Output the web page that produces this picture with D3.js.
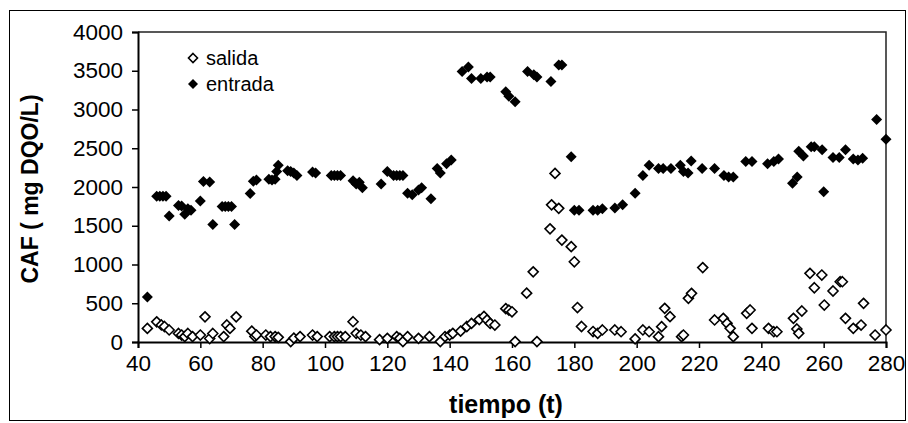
<!DOCTYPE html>
<html><head><meta charset="utf-8">
<script src="https://cdn.jsdelivr.net/npm/d3@7"></script>
<style>body{margin:0;background:#fff}svg{display:block}text{font-family:"Liberation Sans",Arial,sans-serif}</style>
</head><body><svg id="c" width="908" height="423"></svg>
<script>
const xTicks=[40,60,80,100,120,140,160,180,200,220,240,260,280];
const yTicks=[0,500,1000,1500,2000,2500,3000,3500,4000];
const seriesNames=["salida","entrada"];
const entradaT=[43,46,47,48,49,50,53,54,55,56,57,60,61,63,64,67,68,69,70,71,76,77,78,82,83,84,84.5,85,88,89,90,91,96,97,102,103,104,105,109,110,111,112,118,120,122,123,124,125,126.5,128,130,131,134,136,137,139,140.5,144,146,147,150,152,153,158,159,161,165,167,168,172.5,175,176,179,180,181.5,186,187.5,189,193,195.5,199.5,202,204,207,208.5,211,214,215,216.5,217.5,221,225,228,229.5,231,235,237,242,244,245.5,250,251.5,252,253.5,256,257,259.5,260,263,265,267,269.5,271,272.5,277,280];
const entradaV=[580,1880,1880,1880,1880,1625,1760,1755,1650,1720,1700,1820,2070,2065,1515,1750,1750,1750,1750,1515,1915,2075,2090,2100,2090,2100,2200,2280,2210,2200,2180,2150,2195,2180,2150,2150,2150,2150,2080,2040,2060,1990,2040,2200,2150,2150,2150,2150,1920,1900,1960,1990,1850,2240,2180,2300,2350,3490,3550,3400,3400,3420,3420,3230,3170,3100,3490,3450,3420,3360,3575,3575,2390,1700,1700,1700,1700,1720,1730,1770,1920,2150,2280,2240,2240,2240,2280,2200,2180,2335,2240,2240,2150,2130,2130,2330,2330,2300,2330,2360,2050,2130,2460,2400,2520,2520,2480,1940,2380,2380,2480,2360,2350,2370,2870,2615];
const salidaT=[43,46,47.5,48.5,50,53,54,55,56,57.5,60,61.5,63,64,67.5,68.5,69.5,71.5,76.5,77.5,78,81,82.5,84,85,89,90,92,96,97.5,101.5,103,104,105,106.5,109,110,111.5,113,117.5,120,123,124,125,126.5,130,133.5,137,138.5,140,141,143.5,145.5,147,149.5,151,152,153,154.5,158,159,160,161,164.7,166.8,168,172.2,172.7,175,173.8,176,179,180,181,182.3,186,187.5,189,193,195,199.5,202,204,207,208,209,210.7,214.4,215,216.6,217.6,221.2,225,227.8,229,230,231,235.3,236.4,237,242.3,244,245,250.3,251.4,252,253,255.6,257,259.4,260.2,263,265.3,266,267,269.5,272,272.8,276.5,280];
const salidaV=[175,260,220,200,155,110,90,70,110,70,90,325,45,110,70,220,175,325,140,70,90,90,70,70,60,5,50,70,90,70,70,70,70,70,70,262,112,90,70,30,47,69,47,5,69,47,69,5,69,90,112,140,200,240,290,330,284,240,219,430,410,390,5,630,905,5,1460,1770,1725,2175,1315,1230,1035,445,200,135,112,155,155,133,40,155,133,69,198,434,327,69,90,563,628,960,284,305,241,176,69,370,413,176,176,133,133,305,168,112,400,886,700,864,477,658,778,778,305,176,219,499,90,155];

const svg=d3.select("#c");
const x=d3.scaleLinear().domain([40,280]).range([138,886]);
const y=d3.scaleLinear().domain([0,4000]).range([342,32]);

svg.append("rect").attr("x",9.5).attr("y",10.5).attr("width",896).attr("height",410).attr("fill","none").attr("stroke","#000").attr("stroke-width",1);
svg.append("path").attr("d",`M${x(40)},${y(4000)}H${x(280)}V${y(0)}`).attr("fill","none").attr("stroke","#222").attr("stroke-width",1.5);

const xa=svg.append("g").attr("transform",`translate(0,${y(0)})`).call(d3.axisBottom(x).tickValues(xTicks).tickSize(6).tickPadding(7).tickFormat(d3.format("d")));
const ya=svg.append("g").attr("transform",`translate(${x(40)},0)`).call(d3.axisLeft(y).tickValues(yTicks).tickSize(6).tickPadding(9).tickFormat(d3.format("d")));
[xa,ya].forEach(a=>{a.select(".domain").attr("stroke","#000").attr("stroke-width",2);a.selectAll(".tick line").attr("stroke","#000").attr("stroke-width",1.5);a.selectAll("text").attr("font-size",22.5).attr("fill","#000").attr("font-family","'Liberation Sans',Arial,sans-serif");});
xa.selectAll("text").attr("dy","0.71em");

svg.append("text").attr("x",506).attr("y",413).attr("text-anchor","middle").attr("font-weight","bold").attr("font-size",25).text("tiempo (t)");
svg.append("text").attr("transform","translate(38,189) rotate(-90)").attr("text-anchor","middle").attr("font-weight","bold").attr("font-size",23).text("CAF ( mg DQO/L)");

const diamond=r=>`M0,${-r}L${r},0L0,${r}L${-r},0Z`;
const sal=d3.zip(salidaT,salidaV), ent=d3.zip(entradaT,entradaV);
svg.append("g").selectAll("path").data(sal).join("path").attr("d",diamond(5)).attr("transform",d=>`translate(${x(d[0])},${y(d[1])})`).attr("fill","#fff").attr("stroke","#000").attr("stroke-width",1.6);
svg.append("g").selectAll("path").data(ent).join("path").attr("d",diamond(5.5)).attr("transform",d=>`translate(${x(d[0])},${y(d[1])})`).attr("fill","#000");

const lg=svg.append("g");
seriesNames.forEach((n,i)=>{
  const cy=58+i*26;
  lg.append("path").attr("d",diamond(i?5:4.5)).attr("transform",`translate(193,${cy})`).attr("fill",i?"#000":"#fff").attr("stroke","#000").attr("stroke-width",i?0:1.6);
  lg.append("text").attr("x",206).attr("y",cy).attr("dy","0.35em").attr("font-size",20).text(n);
});
</script></body></html>
